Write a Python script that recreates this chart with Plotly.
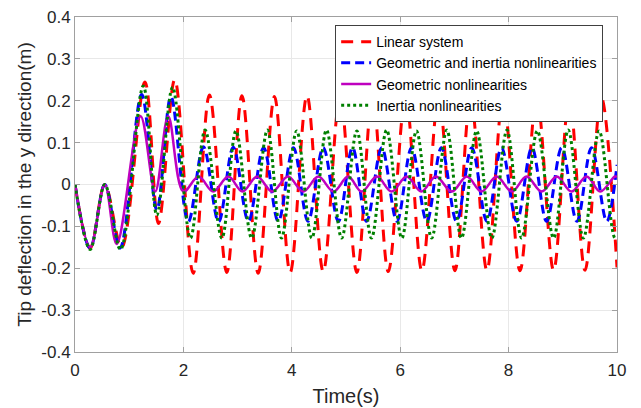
import plotly.graph_objects as go

# Linear system (extrema)
t_linear = [0, 0.28, 0.55, 0.86, 1.29, 1.54, 1.84, 2.18, 2.48, 2.80, 3.08, 3.38, 3.68, 3.97, 4.28,
            4.58, 4.89, 5.20, 5.49, 5.78, 6.10, 6.40, 6.71, 7.01, 7.30, 7.60, 7.90, 8.21, 8.52,
            8.83, 9.12, 9.41, 9.71, 10.0]
y_linear = [0, -0.152, 0, -0.15, 0.245, -0.093, 0.25, -0.212, 0.214, -0.21, 0.212, -0.212, 0.21,
            -0.21, 0.212, -0.208, 0.21, -0.21, 0.212, -0.208, 0.21, -0.206, 0.21, -0.206, 0.208,
            -0.205, 0.21, -0.206, 0.208, -0.205, 0.208, -0.205, 0.208, -0.198]

# Geometric and inertia nonlinearities
t_geo_inertia = [0, 0.28, 0.55, 0.83, 1.23, 1.51, 1.77, 2.09, 2.37, 2.65, 2.92, 3.20, 3.48, 3.75,
                 4.03, 4.30, 4.58, 4.86, 5.12, 5.38, 5.66, 5.94, 6.21, 6.49, 6.76, 7.04, 7.32,
                 7.60, 7.87, 8.15, 8.43, 8.70, 8.98, 9.26, 9.53, 9.81, 10.0]
y_geo_inertia = [0, -0.152, 0, -0.152, 0.215, -0.061, 0.21, -0.089, 0.09, -0.089, 0.089, -0.088,
                 0.088, -0.088, 0.088, -0.088, 0.088, -0.088, 0.088, -0.088, 0.088, -0.088,
                 0.088, -0.088, 0.088, -0.088, 0.088, -0.088, 0.088, -0.088, 0.088, -0.088,
                 0.088, -0.088, 0.088, -0.088, 0.047]

# Geometric nonlinearities
t_geo = [0, 0.28, 0.55, 0.77, 1.21, 1.48, 1.72, 2.00, 2.28, 2.55, 2.83, 3.09, 3.36, 3.64, 3.93,
         4.21, 4.49, 4.77, 5.04, 5.29, 5.57, 5.84, 6.12, 6.39, 6.66, 6.95, 7.23, 7.50, 7.78, 8.06,
         8.33, 8.61, 8.89, 9.16, 9.44, 9.69, 9.96, 10.0]
y_geo = [0, -0.15, 0, -0.142, 0.163, -0.017, 0.163, -0.017, 0.019, -0.017, 0.019, -0.017, 0.019,
         -0.017, 0.019, -0.017, 0.019, -0.017, 0.019, -0.017, 0.019, -0.017, 0.019, -0.017, 0.019,
         -0.017, 0.019, -0.017, 0.019, -0.017, 0.019, -0.017, 0.019, -0.017, 0.019, -0.017, 0.019,
         0.018]

# Inertia nonlinearities
t_inertia = [0, 0.28, 0.55, 0.84, 1.26, 1.51, 1.80, 2.13, 2.40, 2.71, 2.97, 3.26, 3.55, 3.81,
             4.09, 4.37, 4.64, 4.92, 5.20, 5.47, 5.75, 6.03, 6.30, 6.58, 6.86, 7.13, 7.41, 7.69,
             7.97, 8.24, 8.53, 8.83, 9.10, 9.38, 9.67, 9.96, 10.0]
y_inertia = [0, -0.155, 0, -0.155, 0.235, -0.073, 0.232, -0.128, 0.13, -0.128, 0.128, -0.128,
             0.13, -0.128, 0.128, -0.128, 0.13, -0.128, 0.128, -0.128, 0.13, -0.128, 0.128,
             -0.128, 0.13, -0.128, 0.128, -0.128, 0.13, -0.128, 0.128, -0.128, 0.13, -0.128,
             0.128, -0.128, -0.127]

names = ["Linear system", "Geometric and inertia nonlinearities",
         "Geometric nonlinearities", "Inertia nonlinearities"]

x_ticks = [0, 2, 4, 6, 8, 10]
y_ticks = [-0.4, -0.3, -0.2, -0.1, 0, 0.1, 0.2, 0.3, 0.4]
y_ticktext = ["-0.4", "-0.3", "-0.2", "-0.1", "0", "0.1", "0.2", "0.3", "0.4"]

FONT = "Liberation Sans, Arial, sans-serif"

fig = go.Figure()
fig.add_trace(go.Scatter(x=t_linear, y=y_linear, name=names[0], mode="lines",
                         line=dict(color="#ff0000", width=3, dash="12px,8px", shape="spline")))
fig.add_trace(go.Scatter(x=t_geo_inertia, y=y_geo_inertia, name=names[1], mode="lines",
                         line=dict(color="#0000ff", width=3, dash="9px,5px", shape="spline")))
fig.add_trace(go.Scatter(x=t_geo, y=y_geo, name=names[2], mode="lines",
                         line=dict(color="#bf00bf", width=2.5, shape="spline")))
fig.add_trace(go.Scatter(x=t_inertia, y=y_inertia, name=names[3], mode="lines",
                         line=dict(color="#008000", width=3, dash="3px,3px", shape="spline")))

axis_common = dict(showline=True, linecolor="#a0a0a0", linewidth=1, mirror="ticks",
                   ticks="inside", ticklen=5, tickcolor="#a0a0a0", showgrid=True,
                   gridcolor="#e8e8e8", gridwidth=1, zeroline=False, automargin=False,
                   tickfont=dict(family=FONT, size=17, color="#262626"))

fig.update_layout(
    width=641, height=408,
    margin=dict(l=75, r=24, t=17, b=56),
    paper_bgcolor="white", plot_bgcolor="white",
    font=dict(family=FONT, color="#262626"),
    xaxis=dict(range=[0, 10], tickvals=x_ticks, ticklabelstandoff=3,
               title=dict(text="Time(s)", font=dict(family=FONT, size=20, color="#262626"),
                          standoff=9),
               **axis_common),
    yaxis=dict(range=[-0.4, 0.4], tickvals=y_ticks, ticktext=y_ticktext,
               title=dict(text="Tip deflection in the y direction(m)",
                          font=dict(family=FONT, size=19, color="#262626"), standoff=4),
               **axis_common),
    legend=dict(x=0.48, y=0.976, xanchor="left", yanchor="top",
                bgcolor="white", bordercolor="#404040", borderwidth=1,
                font=dict(family=FONT, size=14, color="#000000"),
                tracegroupgap=0, itemwidth=30),
    showlegend=True,
)

fig.write_html("out.html")
